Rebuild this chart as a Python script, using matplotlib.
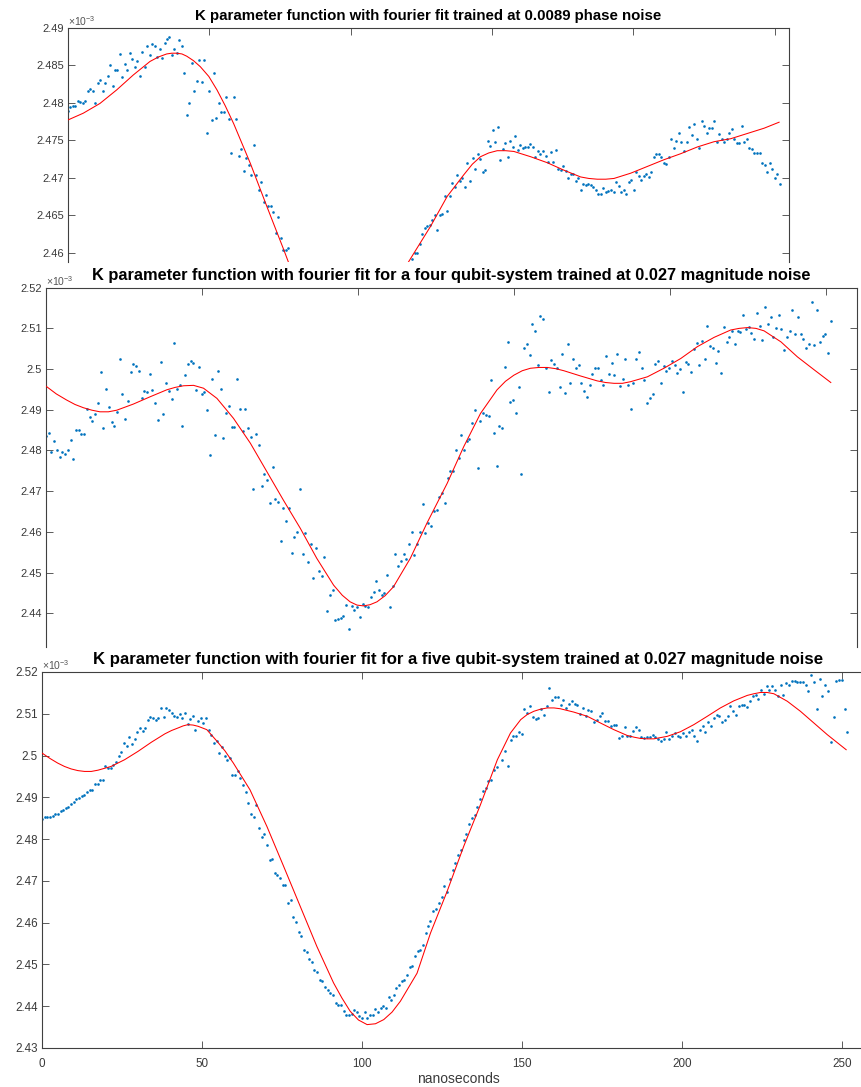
import numpy as np
import matplotlib
matplotlib.use("Agg")
import matplotlib.pyplot as plt
from matplotlib.ticker import FuncFormatter

plt.rcParams['font.family'] = ['Liberation Sans', 'DejaVu Sans']
plt.rcParams['mathtext.fontset'] = 'custom'
plt.rcParams['mathtext.rm'] = 'Liberation Sans'
plt.rcParams['mathtext.it'] = 'Liberation Sans:italic'

# ---------------- data (values in units of 1e-3) ----------------
titles = [
    "K parameter function with fourier fit trained at 0.0089 phase noise",
    "K parameter function with fourier fit for a four qubit-system trained at 0.027 magnitude noise",
    "K parameter function with fourier fit for a five qubit-system trained at 0.027 magnitude noise",
]
xlabel = "nanoseconds"
xticks = [0, 50, 100, 150, 200, 250]

# Panel 1 (phase noise) -- visible samples, two time spans
k1_spans = [(0.0, 77.9), (121.7, 251.7)]
k1_a = [2.4789, 2.4794, 2.4796, 2.4796, 2.4802, 2.4801, 2.4799, 2.4802, 2.4815, 2.4818,
        2.4815, 2.4799, 2.4826, 2.4830, 2.4816, 2.4826, 2.4835, 2.4850, 2.4822, 2.4844,
        2.4844, 2.4865, 2.4834, 2.4852, 2.4844, 2.4866, 2.4858, 2.4847, 2.4855, 2.4836,
        2.4867, 2.4848, 2.4876, 2.4864, 2.4878, 2.4876, 2.4861, 2.4871, 2.4859, 2.4879,
        2.4885, 2.4888, 2.4864, 2.4871, 2.4866, 2.4884, 2.4876,
        2.4839, 2.4783, 2.4799, 2.4853, 2.4815, 2.4829, 2.4857, 2.4827, 2.4857, 2.4760,
        2.4816, 2.4777, 2.4840, 2.4780, 2.4800, 2.4787, 2.4788, 2.4807, 2.4778, 2.4733,
        2.4808, 2.4778, 2.4729, 2.4738, 2.4709, 2.4726, 2.4717, 2.4704, 2.4744, 2.4704,
        2.4683, 2.4694, 2.4668, 2.4677, 2.4662, 2.4662, 2.4654, 2.4626, 2.4648, 2.4619,
        2.4604, 2.4604, 2.4606]
k1_b = [2.4591, 2.4599, 2.4600, 2.4612, 2.4625, 2.4633, 2.4636,
        2.4637, 2.4644, 2.4650, 2.4630, 2.4650, 2.4651, 2.4675, 2.4655, 2.4675, 2.4693,
        2.4687, 2.4704, 2.4695, 2.4700, 2.4688, 2.4719, 2.4696, 2.4726, 2.4712, 2.4732,
        2.4725, 2.4708, 2.4710, 2.4749, 2.4742, 2.4764, 2.4747, 2.4768, 2.4723, 2.4738,
        2.4746, 2.4728, 2.4749, 2.4741, 2.4755, 2.4737, 2.4744, 2.4740, 2.4741, 2.4741,
        2.4745, 2.4741, 2.4727, 2.4736, 2.4732, 2.4736, 2.4729, 2.4721, 2.4734, 2.4721,
        2.4737,
        2.4711, 2.4710, 2.4716, 2.4709, 2.4700, 2.4705, 2.4705, 2.4695, 2.4699, 2.4684,
        2.4692, 2.4690, 2.4692, 2.4690, 2.4687, 2.4684, 2.4678, 2.4678, 2.4686, 2.4681,
        2.4682, 2.4684, 2.4681, 2.4694, 2.4689, 2.4681, 2.4684, 2.4678, 2.4694, 2.4697,
        2.4684, 2.4707, 2.4702, 2.4697, 2.4702, 2.4705, 2.4701, 2.4708, 2.4728, 2.4732,
        2.4731, 2.4728, 2.4720, 2.4718, 2.4727, 2.4752, 2.4739, 2.4749, 2.4759, 2.4748,
        2.4736, 2.4748, 2.4768, 2.4757, 2.4772, 2.4751, 2.4740, 2.4775, 2.4769, 2.4760,
        2.4766, 2.4766, 2.4776, 2.4747, 2.4758, 2.4752, 2.4748, 2.4752, 2.4760, 2.4765,
        2.4751, 2.4746, 2.4746, 2.4769, 2.4747, 2.4751, 2.4740, 2.4738, 2.4733, 2.4733,
        2.4733, 2.4719, 2.4717, 2.4707, 2.4720, 2.4711, 2.4699, 2.4705, 2.4691]
fit1_x = [0, 5.4, 11.3, 17.2, 23.1, 29.0, 32.0, 34.9, 36.7, 38.5, 40.3, 42.0, 44.4, 46.8,
          49.8, 52.7, 55.6, 58.6, 64.5, 70.4, 76.3, 78.6, np.nan, 119.5, 123.1, 128.2,
          134.1, 140.0, 143.0, 145.9, 148.8, 151.8, 154.8, 157.7, 163.6, 169.5, 175.4,
          181.3, 184.2, 187.2, 190.2, 193.1, 199.0, 204.9, 210.8, 216.7, 222.6, 228.5,
          234.4, 240.3, 246.2, 251.5]
fit1_y = [2.4777, 2.4786, 2.4799, 2.4817, 2.4837, 2.4855, 2.4861, 2.4865, 2.4866, 2.4866,
          2.4865, 2.4862, 2.4856, 2.4848, 2.4835, 2.4817, 2.4796, 2.4772, 2.4719, 2.4661,
          2.4604, 2.4581, np.nan, 2.4582, 2.4604, 2.4635, 2.4675, 2.4704, 2.4718, 2.4728,
          2.4733, 2.4736, 2.4736, 2.4735, 2.4728, 2.4720, 2.4710, 2.4701, 2.4699, 2.4698,
          2.4698, 2.4699, 2.4706, 2.4715, 2.4724, 2.4732, 2.4741, 2.4748, 2.4752, 2.4759,
          2.4766, 2.4774]

# Panel 2 (four qubit system)
k2_spans = [(0.0, 122.5), (123.5, 176.9), (177.8, 251.6)]
k2_a = [2.4836, 2.4844, 2.4797, 2.4824, 2.4801, 2.4785, 2.4795, 2.4791, 2.4801, 2.4826,
        2.4778, 2.4850, 2.4850, 2.4840, 2.4840, 2.4903, 2.4883, 2.4872, 2.4890, 2.4917,
        2.4993, 2.4856, 2.4950, 2.4908, 2.4871, 2.4861, 2.4895, 2.5026, 2.4938, 2.4878,
        2.4922, 2.4994, 2.5012, 2.5008, 2.4995, 2.4929, 2.4947, 2.4944, 2.4987, 2.4948,
        2.4916, 2.4875, 2.5017, 2.4890, 2.4967, 2.4945, 2.4926, 2.5063, 2.4950, 2.4962,
        2.4861, 2.4985, 2.5012, 2.5020, 2.5014, 2.4949, 2.5006, 2.4939, 2.4944, 2.4900,
        2.4789, 2.4975, 2.4838, 2.4996, 2.4950, 2.4831, 2.4891, 2.4909, 2.4858, 2.4858,
        2.4976, 2.4903, 2.4849, 2.4903, 2.4856, 2.4834, 2.4705, 2.4841, 2.4813, 2.4713,
        2.4742, 2.4727, 2.4672, 2.4759, 2.4680, 2.4674, 2.4578, 2.4659, 2.4627, 2.4659,
        2.4547, 2.4588, 2.4600, 2.4705, 2.4545, 2.4596, 2.4527, 2.4569, 2.4486, 2.4560,
        2.4504, 2.4492, 2.4539, 2.4406, 2.4446, 2.4457, 2.4383, 2.4387, 2.4388, 2.4394,
        2.4420, 2.4361, 2.4418, 2.4408, 2.4416, 2.4390, 2.4423, 2.4418, 2.4416, 2.4441,
        2.4453, 2.4480, 2.4457, 2.4445, 2.4449, 2.4494, 2.4415, 2.4467, 2.4546, 2.4515,
        2.4529, 2.4546, 2.4533, 2.4569, 2.4600, 2.4544, 2.4570, 2.4600, 2.4668, 2.4598,
        2.4621]
k2_b = [2.4614, 2.4651, 2.4654, 2.4686, 2.4695, 2.4672, 2.4732, 2.4750, 2.4750, 2.4801,
        2.4782, 2.4838, 2.4801, 2.4823, 2.4827, 2.4867, 2.4900, 2.4757, 2.4872, 2.4891,
        2.4886, 2.4885, 2.4973, 2.4842, 2.4762, 2.4860, 2.4854, 2.5006, 2.5067, 2.4920,
        2.4924, 2.4893, 2.4956, 2.4742, 2.5051, 2.5061, 2.5034, 2.5112, 2.5094, 2.5010,
        2.5131, 2.5123, 2.5002, 2.4944, 2.5022, 2.5012, 2.5002, 2.4957, 2.5036, 2.4940,
        2.5061, 2.4965, 2.5026, 2.5002, 2.5010, 2.4965, 2.4946, 2.4931, 2.4961, 2.4987,
        2.5003, 2.5002]
k2_c = [2.4973, 2.4962, 2.5032, 2.4988, 2.5014, 2.4985, 2.5037, 2.4958, 2.4976, 2.5026,
        2.4962, 2.4902, 2.4965, 2.5024, 2.5042, 2.5003, 2.4973, 2.4917, 2.4928, 2.4939,
        2.5012, 2.5020, 2.4965, 2.5008, 2.4996, 2.5003, 2.5021, 2.5009, 2.4990, 2.4999,
        2.4943, 2.5018, 2.5012, 2.4994, 2.5050, 2.5063, 2.5010, 2.5068, 2.5026, 2.5107,
        2.5057, 2.5053, 2.5015, 2.5045, 2.4990, 2.5103, 2.5066, 2.5080, 2.5094, 2.5062,
        2.5094, 2.5092, 2.5134, 2.5098, 2.5103, 2.5089, 2.5074, 2.5137, 2.5106, 2.5071,
        2.5152, 2.5110, 2.5128, 2.5078, 2.5100, 2.5134, 2.5098, 2.5048, 2.5079, 2.5094,
        2.5144, 2.5086, 2.5127, 2.5086, 2.5074, 2.5052, 2.5062, 2.5164, 2.5059, 2.5144,
        2.5066, 2.5082, 2.5085, 2.5039, 2.5117]
fit2_x = [0, 3.3, 6.6, 9.3, 12.0, 14.7, 17.3, 20.0, 22.7, 28.0, 33.4, 38.7, 41.4, 44.1,
          47.3, 50.5, 54.8, 60.1, 65.5, 70.8, 76.1, 81.5, 86.8, 92.2, 95.0, 97.5, 99.7,
          101.8, 103.9, 106.1, 108.7, 111.4, 116.8, 122.1, 128.6, 133.9, 139.3, 144.6,
          147.3, 150.0, 152.7, 155.3, 158.0, 160.7, 163.4, 166.0, 171.4, 176.7, 179.4,
          182.1, 184.8, 187.4, 192.8, 198.1, 203.5, 208.8, 214.2, 219.5, 222.2, 224.9,
          227.6, 230.2, 235.6, 240.9, 246.3, 251.6]
fit2_y = [2.4958, 2.4939, 2.4924, 2.4913, 2.4905, 2.4899, 2.4895, 2.4895, 2.4899, 2.4914,
          2.4932, 2.4949, 2.4955, 2.4959, 2.4960, 2.4953, 2.4928, 2.4879, 2.4818, 2.4748,
          2.4678, 2.4609, 2.4535, 2.4469, 2.4444, 2.4428, 2.4420, 2.4418, 2.4421, 2.4428,
          2.4443, 2.4465, 2.4535, 2.4621, 2.4719, 2.4809, 2.4891, 2.4949, 2.4970, 2.4985,
          2.4996, 2.5002, 2.5004, 2.5004, 2.5001, 2.4996, 2.4983, 2.4971, 2.4967, 2.4965,
          2.4965, 2.4969, 2.4981, 2.5002, 2.5026, 2.5055, 2.5078, 2.5096, 2.5100, 2.5102,
          2.5100, 2.5094, 2.5067, 2.5030, 2.4998, 2.4967]

# Panel 3 (five qubit system)
k3_spans = [(0.0, 120.7), (121.4, 142.1), (143.8, 251.7)]
k3_a = [2.4849, 2.4853, 2.4853, 2.4852, 2.4856, 2.4859, 2.4859,
        2.4867, 2.4870, 2.4874, 2.4878, 2.4883, 2.4889, 2.4896, 2.4898, 2.4904, 2.4906,
        2.4913, 2.4917, 2.4917, 2.4931, 2.4931, 2.4941, 2.4941,
        2.4976, 2.4971, 2.4970, 2.4977, 2.4985, 2.5000, 2.5009, 2.5029, 2.5024, 2.5044,
        2.5028, 2.5040, 2.5056, 2.5066, 2.5059, 2.5067, 2.5086, 2.5092, 2.5090, 2.5085,
        2.5091, 2.5115, 2.5093, 2.5115, 2.5109, 2.5101, 2.5095, 2.5092, 2.5100, 2.5091,
        2.5103, 2.5075, 2.5088, 2.5094, 2.5060, 2.5083, 2.5090, 2.5078, 2.5091,
        2.5061, 2.5050, 2.5030, 2.5035, 2.5006, 2.5020, 2.4998, 2.4989, 2.4995, 2.4953,
        2.4953, 2.4964, 2.4946, 2.4929, 2.4913, 2.4886, 2.4860, 2.4852, 2.4882, 2.4827,
        2.4804, 2.4812, 2.4785, 2.4749, 2.4753, 2.4720, 2.4713, 2.4707, 2.4691, 2.4691,
        2.4646, 2.4655, 2.4613, 2.4602, 2.4577, 2.4568, 2.4535, 2.4530, 2.4514, 2.4506,
        2.4487, 2.4483, 2.4463, 2.4460, 2.4447, 2.4438, 2.4431, 2.4427, 2.4407, 2.4403,
        2.4403, 2.4389, 2.4380, 2.4379, 2.4382, 2.4392, 2.4386, 2.4376, 2.4372, 2.4385,
        2.4373, 2.4378, 2.4380, 2.4394, 2.4385, 2.4396, 2.4401, 2.4396, 2.4422, 2.4415,
        2.4427, 2.4443, 2.4451, 2.4461, 2.4463, 2.4475, 2.4494, 2.4497, 2.4520, 2.4531,
        2.4535, 2.4546, 2.4575, 2.4591]
k3_b = [2.4603, 2.4627, 2.4633, 2.4647, 2.4661, 2.4687, 2.4673, 2.4704, 2.4727, 2.4743,
        2.4763, 2.4775, 2.4797, 2.4812, 2.4835, 2.4851, 2.4857, 2.4878, 2.4896, 2.4914,
        2.4922, 2.4939, 2.4941, 2.4966, 2.4972]
k3_c = [2.4990, 2.5012, 2.4974, 2.5038, 2.5046, 2.5046, 2.5056, 2.5052, 2.5111, 2.5103,
        2.5119, 2.5093, 2.5087, 2.5090, 2.5111, 2.5096, 2.5119, 2.5162, 2.5132, 2.5139,
        2.5140, 2.5120, 2.5132, 2.5115, 2.5124, 2.5131, 2.5124, 2.5122, 2.5099, 2.5114,
        2.5095, 2.5110, 2.5107, 2.5080, 2.5084, 2.5094, 2.5103, 2.5083, 2.5083, 2.5070,
        2.5072, 2.5072, 2.5042, 2.5046, 2.5069, 2.5046, 2.5046, 2.5058, 2.5068, 2.5062,
        2.5044, 2.5042, 2.5045, 2.5044, 2.5049, 2.5044, 2.5040, 2.5036, 2.5040, 2.5056,
        2.5040, 2.5046, 2.5055, 2.5048, 2.5044, 2.5054, 2.5046, 2.5057, 2.5062, 2.5048,
        2.5034, 2.5062, 2.5070, 2.5056, 2.5080, 2.5070, 2.5089, 2.5097, 2.5095, 2.5081,
        2.5084, 2.5094, 2.5119, 2.5106, 2.5098, 2.5119, 2.5120, 2.5122, 2.5116, 2.5131,
        2.5143, 2.5146, 2.5135, 2.5158, 2.5148, 2.5167, 2.5158, 2.5167, 2.5158, 2.5143,
        2.5168, 2.5146, 2.5174, 2.5170, 2.5178, 2.5178, 2.5175, 2.5177, 2.5176, 2.5168,
        2.5155, 2.5194, 2.5176, 2.5111, 2.5183, 2.5142, 2.5169, 2.5155, 2.5032, 2.5092,
        2.5178, 2.5180, 2.5182, 2.5111, 2.5056]
fit3_x = [0, 2.5, 4.9, 7.0, 9.1, 11.2, 13.3, 15.4, 17.5, 21.6, 25.8, 30.0, 34.2, 38.4,
          40.5, 42.5, 44.1, 45.6, 47.2, 48.8, 51.5, 54.6, 57.2, 59.8, 65.0, 70.3, 75.5,
          80.7, 85.9, 91.1, 93.7, 96.3, 98.9, 101.6, 104.2, 106.8, 109.4, 112.0, 117.2,
          121.4, 126.6, 131.8, 137.0, 142.3, 146.4, 149.6, 151.6, 153.7, 155.8, 157.9,
          160.0, 162.0, 166.2, 170.4, 174.5, 178.7, 182.9, 185.0, 187.0, 189.1, 191.2,
          195.4, 199.5, 203.7, 207.9, 212.0, 216.2, 220.4, 222.5, 224.5, 226.6, 228.7,
          232.9, 237.0, 241.2, 245.4, 251.3]
fit3_y = [2.5006, 2.4993, 2.4982, 2.4974, 2.4968, 2.4964, 2.4962, 2.4962, 2.4965, 2.4974,
          2.4990, 2.5010, 2.5032, 2.5052, 2.5060, 2.5066, 2.5071, 2.5074, 2.5073, 2.5070,
          2.5062, 2.5035, 2.5011, 2.4982, 2.4918, 2.4830, 2.4735, 2.4639, 2.4543, 2.4456,
          2.4420, 2.4388, 2.4367, 2.4356, 2.4358, 2.4368, 2.4386, 2.4412, 2.4479, 2.4575,
          2.4675, 2.4783, 2.4882, 2.4990, 2.5054, 2.5086, 2.5098, 2.5106, 2.5111, 2.5114,
          2.5114, 2.5112, 2.5104, 2.5094, 2.5078, 2.5062, 2.5048, 2.5044, 2.5041, 2.5040,
          2.5040, 2.5046, 2.5057, 2.5074, 2.5094, 2.5114, 2.5131, 2.5144, 2.5148, 2.5151,
          2.5151, 2.5148, 2.5130, 2.5106, 2.5078, 2.5050, 2.5014]

panels = [
    dict(spans=k1_spans, segs=[k1_a, k1_b], fx=fit1_x, fy=fit1_y, ylim=(2.45876, 2.49),
         yticks=[2.46, 2.465, 2.47, 2.475, 2.48, 2.485, 2.49], xlim=(0, 255)),
    dict(spans=k2_spans, segs=[k2_a, k2_b, k2_c], fx=fit2_x, fy=fit2_y,
         ylim=(2.4317, 2.52), yticks=[2.44, 2.45, 2.46, 2.47, 2.48, 2.49, 2.5, 2.51, 2.52],
         xlim=(0, 260)),
    dict(spans=k3_spans, segs=[k3_a, k3_b, k3_c], fx=fit3_x, fy=fit3_y, ylim=(2.43, 2.52),
         yticks=[2.43, 2.44, 2.45, 2.46, 2.47, 2.48, 2.49, 2.5, 2.51, 2.52], xlim=(0, 260)),
]

# ---------------- layout (pixel boxes: left, top, right, bottom) ----------------
W, H = 861, 1087
boxes = [(68, 27.7, 789, 262), (46, 287.7, 857, 647), (42, 672, 874, 1048)]
title_sizes = [10.85, 11.8, 12.1]
tick_sizes = [8, 8, 8.4]

fig = plt.figure(figsize=(W / 100, H / 100), dpi=100)
fig.patch.set_facecolor('white')

BLUE = '#0072BD'
AX = '#404040'
fmt = FuncFormatter(lambda v, p: '%g' % round(v, 4))

for i, (p, box) in enumerate(zip(panels, boxes)):
    l, t, r, b = box
    ax = fig.add_axes([l / W, 1 - b / H, (r - l) / W, (b - t) / H])
    ax.set_facecolor('white')
    for (x0, x1), seg in zip(p['spans'], p['segs']):
        xs = np.linspace(x0, x1, len(seg))
        ax.plot(xs, seg, linestyle='none', marker='o', ms=1.9, mew=0,
                color=BLUE, zorder=2)
    ax.plot(p['fx'], p['fy'], color='#FF0000', lw=0.75, zorder=3)
    ax.set_xlim(*p['xlim'])
    ax.set_ylim(*p['ylim'])
    ax.set_xticks(xticks)
    ax.set_yticks(p['yticks'])
    ax.yaxis.set_major_formatter(fmt)
    ax.tick_params(direction='in', top=True, right=True, length=5, width=0.6,
                   color=AX, labelcolor='#3a3a3a', labelsize=tick_sizes[i])
    ax.tick_params(axis='y', pad=3)
    ax.tick_params(axis='x', pad=7)
    for s in ax.spines.values():
        s.set_color(AX)
        s.set_linewidth(0.8)
    if i < 2:
        # lower part of this panel is hidden beneath the next one
        ax.spines['bottom'].set_visible(False)
        ax.tick_params(axis='x', bottom=False, labelbottom=False)
    else:
        ax.set_xlabel(xlabel, fontsize=10, color='#3a3a3a', labelpad=1.5)
    ax.set_title(titles[i], fontsize=title_sizes[i], fontweight='bold', pad=5.5)
    ax.text(0, 1.0, r'$\times10^{-3}$', transform=ax.transAxes, ha='left',
            va='bottom', fontsize=7.5, color='#555555')

fig.savefig('out.png', dpi=100)
